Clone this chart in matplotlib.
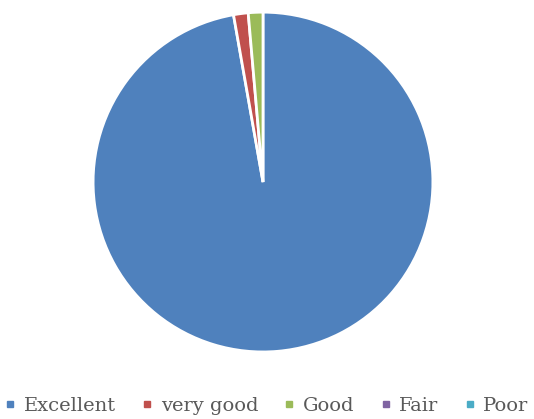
import matplotlib.pyplot as plt
from matplotlib.lines import Line2D

# ratings share
labels = ["Excellent", "very good", "Good", "Fair", "Poor"]
values = [140, 2, 2, 0, 0]
colors = ["#4F81BD", "#C0504D", "#9BBB59", "#8064A2", "#4BACC6"]

plt.rcParams['font.family'] = ['DejaVu Serif']

fig = plt.figure(figsize=(5.34, 4.19), dpi=100)
ax = fig.add_axes([0.174, 0.160, 0.637, 0.811])

# zero slices are not drawn, only listed in the legend
vals = [v for v in values if v > 0]
cols = [c for v, c in zip(values, colors) if v > 0]
ax.pie(vals, colors=cols, startangle=90, counterclock=False, radius=1.0,
       wedgeprops=dict(edgecolor="white", linewidth=2))
ax.set_xlim(-1.0, 1.0)
ax.set_ylim(-1.0, 1.0)
ax.set_aspect("equal")
ax.axis("off")

handles = [Line2D([0], [0], marker="s", linestyle="", markersize=5,
                  markerfacecolor=c, markeredgecolor=c) for c in colors]
fig.legend(handles, labels, loc="center", bbox_to_anchor=(0.5, 0.032), ncol=5,
           frameon=False, fontsize=14, handlelength=0.5, handletextpad=0.45,
           columnspacing=1.35, labelcolor="#595959")

fig.savefig("out.png", dpi=100)
